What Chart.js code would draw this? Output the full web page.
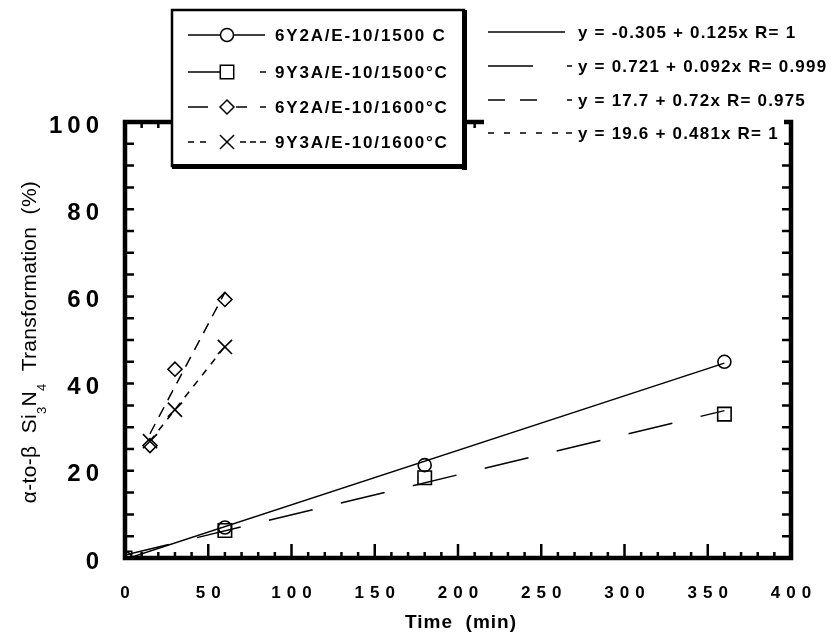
<!DOCTYPE html>
<html>
<head>
<meta charset="utf-8">
<script src="https://cdn.jsdelivr.net/npm/chart.js@4.4.1/dist/chart.umd.min.js"></script>
<style>
  html, body { margin: 0; padding: 0; background: #fff; }
  #wrap { width: 834px; height: 636px; position: relative; }
</style>
</head>
<body>
<div id="wrap"><canvas id="chart"></canvas></div>
<script>
// tick labels
const xTicks = [0, 50, 100, 150, 200, 250, 300, 350, 400];
const yTicks = [0, 20, 40, 60, 80, 100];

const seriesNames = ['6Y2A/E-10/1500 C', '9Y3A/E-10/1500°C', '6Y2A/E-10/1600°C', '9Y3A/E-10/1600°C'];
const fitLabels = ['y = -0.305 + 0.125x R= 1', 'y = 0.721 + 0.092x R= 0.999', 'y = 17.7 + 0.72x R= 0.975', 'y = 19.6 + 0.481x R= 1'];

// measured points (time in min, % transformed)
const time1500 = [0, 60, 180, 360];
const y6Y2A_1500 = [0, 7, 21.3, 45];
const y9Y3A_1500 = [0, 6.3, 18.4, 33];

const time1600 = [15, 30, 60];
const y6Y2A_1600 = [25.8, 43.3, 59.3];
const y9Y3A_1600 = [26.8, 34, 48.4];

// fitted lines, end points as drawn
const fitX1500 = [0, 360];
const fitX1600 = [15, 60];
const fit6Y2A_1500 = [-0.3, 44.7];
const fit9Y3A_1500 = [0.7, 33.8];
const fit6Y2A_1600 = [28.5, 60.9];
const fit9Y3A_1600 = [26.8, 48.5];

const markerStyles = ['circle', 'rect', 'rectRot', 'crossRot'];
const markerRadius = [6.5, 9.5, 7, 10];
const lineDashes = [[], [45, 29], [11, 8], [7, 7]];

const FONT = '"Liberation Sans", Arial, Helvetica, sans-serif';

function toPoints(xs, ys) {
    return xs.map((x, i) => ({ x: x, y: ys[i] }));
}

function markerSet(i, xs, ys) {
    return {
        label: seriesNames[i],
        data: toPoints(xs, ys),
        showLine: false,
        pointStyle: markerStyles[i],
        pointRadius: markerRadius[i],
        pointBorderWidth: 1.6,
        pointBorderColor: '#000',
        pointBackgroundColor: 'rgba(0,0,0,0)'
    };
}

function fitSet(i, xs, ys) {
    return {
        label: fitLabels[i],
        data: toPoints(xs, ys),
        showLine: true,
        borderColor: '#000',
        borderWidth: 1.5,
        borderDash: lineDashes[i],
        pointRadius: 0,
        fill: false
    };
}

function strokeSegments(ctx, segs, y) {
    ctx.beginPath();
    segs.forEach(s => { ctx.moveTo(s[0], y); ctx.lineTo(s[1], y); });
    ctx.stroke();
}

// legend sample pieces (as in the scanned key)
const legendRows = [35, 72, 107, 142];
const legendSegs = [
    [[188, 265]],
    [[188, 222], [260, 266]],
    [[188, 208], [236, 247], [260, 266]],
    [[188, 194], [200, 206], [240, 246], [250, 256], [260, 266]]
];
const eqRows = [32, 66, 100, 133];
const eqSegs = [
    [[488, 565]],
    [[488, 533], [567, 572]],
    [[488, 505], [520, 537], [567, 572]],
    [[488, 494], [504, 510], [520, 526], [536, 542], [552, 558], [566, 572]]
];

const decorations = {
    id: 'decorations',
    afterDraw(chart) {
        const { ctx, chartArea: a, scales: { x, y } } = chart;
        ctx.save();
        ctx.strokeStyle = '#000';
        ctx.fillStyle = '#000';
        ctx.setLineDash([]);

        // inward ticks
        ctx.lineWidth = 2.5;
        ctx.beginPath();
        for (let v = 10; v < 400; v += 10) {
            const px = x.getPixelForValue(v);
            const len = v % 50 === 0 ? 14 : 6;
            ctx.moveTo(px, a.bottom); ctx.lineTo(px, a.bottom - len);
            ctx.moveTo(px, a.top); ctx.lineTo(px, a.top + len);
        }
        for (let v = 5; v < 100; v += 5) {
            const py = y.getPixelForValue(v);
            ctx.moveTo(a.left, py); ctx.lineTo(a.left + 9, py);
            ctx.moveTo(a.right, py); ctx.lineTo(a.right - 9, py);
        }
        ctx.stroke();

        // frame
        ctx.lineWidth = 4.5;
        ctx.strokeRect(a.left, a.top, a.right - a.left, a.bottom - a.top);

        // tick labels
        ctx.textBaseline = 'middle';
        ctx.font = 'bold 17px ' + FONT;
        ctx.letterSpacing = '6px';
        ctx.textAlign = 'center';
        xTicks.forEach(v => ctx.fillText(String(v), x.getPixelForValue(v) + 3, 593));
        ctx.font = 'bold 24px ' + FONT;
        ctx.letterSpacing = '5px';
        ctx.textAlign = 'right';
        yTicks.forEach(v => ctx.fillText(String(v), 104, y.getPixelForValue(v) + 4));

        // x title
        ctx.font = 'bold 19px ' + FONT;
        ctx.letterSpacing = '1px';
        ctx.textAlign = 'center';
        ctx.fillText('Time  (min)', 461, 623);

        // y title with subscripts
        ctx.save();
        ctx.translate(36, 342);
        ctx.rotate(-Math.PI / 2);
        ctx.textAlign = 'left';
        ctx.textBaseline = 'alphabetic';
        ctx.letterSpacing = '0.3px';
        const big = '21px ' + FONT, small = '13px ' + FONT;
        const parts = [['α-to-β  Si', big, 0], ['3', small, 10], ['N', big, 0], ['4', small, 10], ['  Transformation  (%)', big, 0]];
        let total = 0;
        parts.forEach(p => { ctx.font = p[1]; total += ctx.measureText(p[0]).width; });
        let cx = -total / 2;
        parts.forEach(p => {
            ctx.font = p[1];
            ctx.fillText(p[0], cx, p[2]);
            cx += ctx.measureText(p[0]).width;
        });
        ctx.restore();

        // legend box
        ctx.fillStyle = '#fff';
        ctx.fillRect(171, 9, 296, 161);
        ctx.fillStyle = '#000';
        ctx.lineWidth = 2.5;
        ctx.strokeRect(172, 10, 292, 156);
        ctx.fillRect(462, 10, 5, 160);
        ctx.fillRect(172, 164, 295, 5);

        ctx.font = 'bold 17px ' + FONT;
        ctx.letterSpacing = '1.8px';
        ctx.textAlign = 'left';
        ctx.lineWidth = 1.5;
        legendRows.forEach((ry, i) => {
            strokeSegments(ctx, legendSegs[i], ry);
            ctx.fillStyle = '#fff';
            Chart.helpers.drawPoint(ctx, { pointStyle: markerStyles[i], radius: markerRadius[i], rotation: 0, borderWidth: 1.6 }, 227, ry);
            ctx.fillStyle = '#000';
            ctx.fillText(seriesNames[i], 275, ry + 1);
        });

        // fit equations (white backing hides the top axis, as in the original)
        ctx.fillStyle = '#fff';
        ctx.fillRect(484, 12, 300, 136);
        ctx.fillStyle = '#000';
        ctx.letterSpacing = '1.2px';
        eqRows.forEach((ry, i) => {
            strokeSegments(ctx, eqSegs[i], ry);
            ctx.fillText(fitLabels[i], 578, ry + 1);
        });

        ctx.restore();
    }
};

new Chart(document.getElementById('chart'), {
    type: 'scatter',
    data: {
        datasets: [
            fitSet(0, fitX1500, fit6Y2A_1500),
            fitSet(1, fitX1500, fit9Y3A_1500),
            fitSet(2, fitX1600, fit6Y2A_1600),
            fitSet(3, fitX1600, fit9Y3A_1600),
            markerSet(0, time1500, y6Y2A_1500),
            markerSet(1, time1500, y9Y3A_1500),
            markerSet(2, time1600, y6Y2A_1600),
            markerSet(3, time1600, y9Y3A_1600)
        ]
    },
    options: {
        responsive: true,
        maintainAspectRatio: false,
        animation: false,
        layout: { padding: { top: 122, right: 43, bottom: 0, left: 0 } },
        plugins: { legend: { display: false }, tooltip: { enabled: false } },
        scales: {
            x: {
                type: 'linear', min: 0, max: 400,
                afterBuildTicks: s => { s.ticks = xTicks.map(v => ({ value: v })); },
                afterFit: s => { s.height = 78; },
                ticks: { display: false },
                grid: { display: false, drawTicks: false },
                border: { display: false }
            },
            y: {
                type: 'linear', min: 0, max: 100,
                afterBuildTicks: s => { s.ticks = yTicks.map(v => ({ value: v })); },
                afterFit: s => { s.width = 125; },
                ticks: { display: false },
                grid: { display: false, drawTicks: false },
                border: { display: false }
            }
        }
    },
    plugins: [decorations]
});
</script>
</body>
</html>
